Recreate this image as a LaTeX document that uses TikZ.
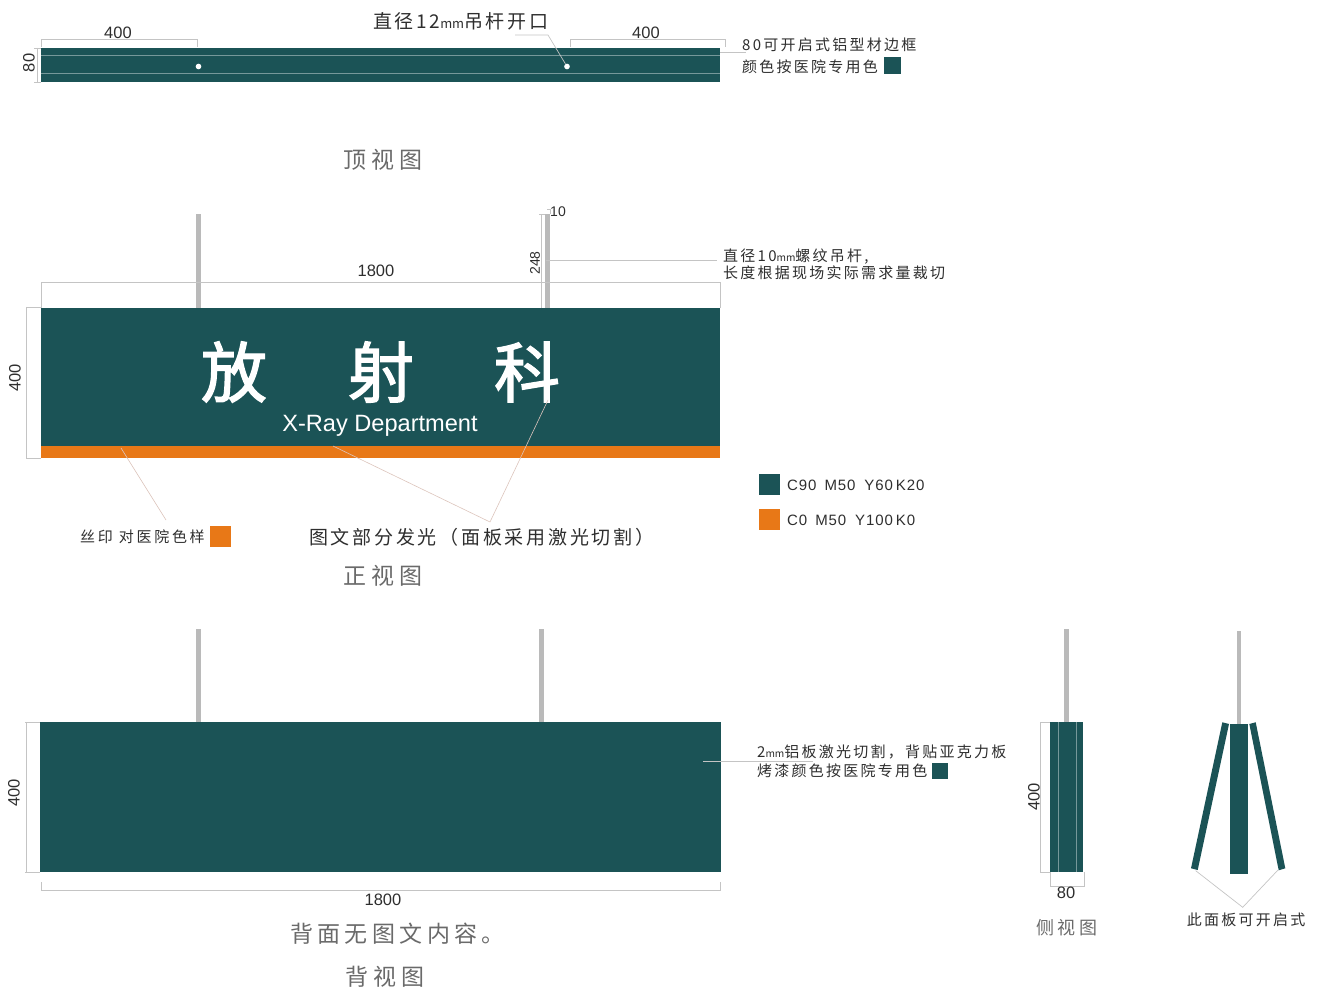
\documentclass[tikz,border=0pt]{standalone}
\usepackage{fontspec}
\setmainfont{Liberation Sans}
\newfontfamily\cjk{Noto Sans CJK SC}
\newcommand{\cn}[2]{\fontsize{#1}{#1}\selectfont\cjk\addfontfeature{LetterSpace=#2}}
\newcommand{\ns}[1]{{\addfontfeature{LetterSpace=0,Scale=0.68}#1}}
\definecolor{signgreen}{HTML}{1B5356}
\definecolor{signorange}{HTML}{E87817}
\definecolor{dimgray}{HTML}{C4C4C4}
\definecolor{rodgray}{HTML}{BABABA}
\definecolor{inkgray}{HTML}{2E2E2E}
\definecolor{titlegray}{HTML}{6A6A6A}
\definecolor{leadpink}{HTML}{DCC4BC}
\tikzset{
  dimline/.style={draw=dimgray,line width=0.7pt},
  leadline/.style={draw=leadpink,line width=0.6pt},
  dimtext/.style={inner sep=0pt,text=inkgray,font=\fontsize{16.5}{16.5}\selectfont},
  note/.style={inner sep=0pt,anchor=west,text=inkgray},
  viewname/.style={inner sep=0pt,text=titlegray},
  swatch/.style={inner sep=0pt,minimum width=#1,minimum height=#1},
  bigchar/.style={inner sep=0pt,text=white,font=\cn{66}{0}\addfontfeature{FakeBold=2}}
}
\begin{document}
\begin{tikzpicture}[x=1pt,y=-1pt]
  \useasboundingbox (0,0) rectangle (1320,992);
  % top view
  \fill[signgreen](41,48)rectangle(720,82);
  \foreach \y in {55,73} \draw[white!40!signgreen,line width=0.6pt](41,\y)--(720,\y);
  \node[circle,fill=white,inner sep=2pt](holea)at(198.5,66.5){};
  \node[circle,fill=white,inner sep=2pt](holeb)at(567,66.5){};
  \draw[dimline](41,47)--(41,39)--(197,39)--(197,47);
  \draw[dimline](570,47)--(570,39)--(725,39)--(725,47);
  \draw[dimline](34,48)--(41,48) (34,82)--(41,82) (37,48)--(37,82);
  \node[dimtext](topa)at(118,33){400};
  \node[dimtext](topb)at(646,33){400};
  \node[dimtext,rotate=90](toph)at(29,63){80};
  \node[note,font=\cn{19}{14}](holetext)at(373,21){直径12\ns{mm}吊杆开口};
  \coordinate(holeleft)at(515,35);
  \coordinate(holebend)at(548,35);
  \draw[dimline](holeleft)--(holebend)--(holeb);
  \node[note,font=\cn{15}{15}](frameone)at(742,45){80可开启式铝型材边框};
  \node[note,font=\cn{15}{15}](frametwo)at(742,67){颜色按医院专用色};
  \node[swatch=17pt,fill=signgreen](frameswatch)at(892.5,65.5){};
  \coordinate(framea)at(720,52);
  \coordinate(frameb)at(746,52);
  \draw[dimline](framea)--(frameb);
  \node[viewname,font=\cn{23}{22}](toptitle)at(383,160){顶视图};

  % front view
  \foreach \x in {196,545} \fill[rodgray](\x,214)rectangle(\x+5,308);
  \fill[signgreen](41,308)rectangle(720,446);
  \fill[signorange](41,446)rectangle(720,458);
  \draw[dimline](41,308)--(41,282)--(720,282)--(720,308);
  \draw[dimline](26,307)--(41,307) (26,458)--(41,458) (26,307)--(26,458);
  \draw[dimline](541,308)--(541,214) (539,214)--(545,214) (547,209)--(551,209) (550,209)--(550,214);
  \node[dimtext](fronta)at(376,271){1800};
  \node[dimtext,rotate=90](fronth)at(15,378){400};
  \node[dimtext,rotate=90,font=\fontsize{14}{14}\selectfont](rodh)at(535,263){248};
  \node[dimtext,font=\fontsize{14}{14}\selectfont](rodw)at(558,212){10};
  \node[bigchar](fang)at(234,372){放};
  \node[bigchar](she)at(381,372){射};
  \node[bigchar](ke)at(527,372){科};
  \node[inner sep=0pt,text=white,font=\fontsize{23.6}{23.6}\selectfont](xray)at(380,425.5){X-Ray Department};
  \coordinate(roda)at(546,260);
  \coordinate(rodb)at(717,260);
  \draw[dimline](roda)--(rodb);
  \node[note,font=\cn{15}{15}](rodone)at(723,257){直径10\ns{mm}螺纹吊杆,};
  \node[note,font=\cn{15}{15}](rodtwo)at(723,273){长度根据现场实际需求量裁切};
  \coordinate(printa)at(121,448);
  \coordinate(printb)at(166,520);
  \draw[leadline](printa)--(printb);
  \node[note,font=\cn{15}{18}](printtext)at(80,537){丝印 对医院色样};
  \node[swatch=21pt,fill=signorange](printswatch)at(220.5,536.5){};
  \coordinate(glowa)at(333,446);
  \coordinate(glowb)at(490,522);
  \coordinate(glowc)at(548,400);
  \draw[leadline](glowa)--(glowb)--(glowc);
  \node[note,font=\cn{19}{14.5}](glowtext)at(309,537){图文部分发光（面板采用激光切割）};
  \node[viewname,font=\cn{23}{22}](fronttitle)at(383,576){正视图};
  \node[swatch=21pt,fill=signgreen](keygreen)at(769.5,484.5){};
  \node[swatch=21pt,fill=signorange](keyorange)at(769.5,519.5){};
  \node[note,font=\fontsize{15}{15}\selectfont\addfontfeature{LetterSpace=6}](keyone)at(787,485){C90\hspace{8pt}M50\hspace{9pt}Y60\hspace{3pt}K20};
  \node[note,font=\fontsize{15}{15}\selectfont\addfontfeature{LetterSpace=6}](keytwo)at(787,520){C0\hspace{8pt}M50\hspace{9pt}Y100\hspace{3pt}K0};

  % back view
  \fill[rodgray](196,629)rectangle(201,722);
  \fill[rodgray](539,629)rectangle(544,722);
  \fill[signgreen](40,722)rectangle(721,872);
  \draw[dimline](25,722)--(40,722) (25,872)--(40,872) (26,722)--(26,872);
  \draw[dimline](41,882)--(41,890)--(720,890)--(720,882);
  \node[dimtext,rotate=90](backh)at(14,793){400};
  \node[dimtext](backa)at(383,900){1800};
  \coordinate(plateone)at(703,761);
  \coordinate(platetwo)at(813,761);
  \draw[dimline](plateone)--(platetwo);
  \node[note,font=\cn{15}{15}](plateup)at(757,752){2\ns{mm}铝板激光切割，背贴亚克力板};
  \node[note,font=\cn{15}{15}](platedown)at(757,771){烤漆颜色按医院专用色};
  \node[swatch=16pt,fill=signgreen](plateswatch)at(940,771){};
  \node[note,font=\cn{23}{19},text=titlegray](backnote)at(290,934){背面无图文内容。};
  \node[viewname,font=\cn{23}{22}](backtitle)at(385,977){背视图};

  % side view
  \fill[rodgray](1064,629)rectangle(1069,722);
  \fill[signgreen](1050,722)rectangle(1083,872);
  \foreach \x in {1058,1076} \draw[white!40!signgreen,line width=0.5pt](\x,722)--(\x,872);
  \draw[dimline](1040,722)--(1050,722) (1040,872)--(1050,872) (1040,722)--(1040,872);
  \draw[dimline](1050,872)--(1050,886)--(1084,886)--(1084,872);
  \node[dimtext,rotate=90](sideh)at(1034,797){400};
  \node[dimtext](sidew)at(1066,893){80};
  \node[viewname,font=\cn{18}{17}](sidetitle)at(1067,928){侧视图};

  % open panel
  \fill[rodgray](1236.5,631)rectangle(1241,724);
  \fill[signgreen](1230,724)rectangle(1248,874);
  \fill[signgreen](1222.3,722.3)--(1229,724)--(1197.7,870)--(1191,868.3)--cycle;
  \fill[signgreen](1249.3,724)--(1255.7,722.3)--(1285.3,868.3)--(1278.7,870.3)--cycle;
  \coordinate(opena)at(1195.7,870.7);
  \coordinate(openb)at(1242.7,907.3);
  \coordinate(openc)at(1278,870);
  \draw[dimline](opena)--(openb)--(openc);
  \node[inner sep=0pt,text=inkgray,font=\cn{15}{15}](opentext)at(1246,920){此面板可开启式};
\end{tikzpicture}
\end{document}
